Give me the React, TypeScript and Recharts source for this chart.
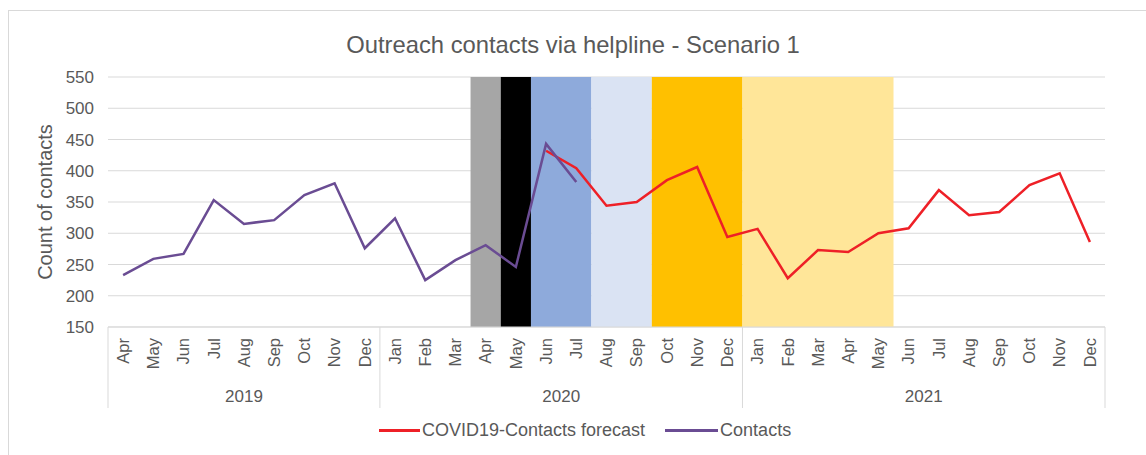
import React from 'react';
import { ComposedChart, Line, XAxis, YAxis, CartesianGrid, ReferenceArea, Legend } from 'recharts';

document.body.style.margin = '0';

const years = ['2019', '2020', '2021'];
const yearMonths = [
  ['Apr', 'May', 'Jun', 'Jul', 'Aug', 'Sep', 'Oct', 'Nov', 'Dec'],
  ['Jan', 'Feb', 'Mar', 'Apr', 'May', 'Jun', 'Jul', 'Aug', 'Sep', 'Oct', 'Nov', 'Dec'],
  ['Jan', 'Feb', 'Mar', 'Apr', 'May', 'Jun', 'Jul', 'Aug', 'Sep', 'Oct', 'Nov', 'Dec'],
];

// Apr 2019 - Jul 2020
const contacts = [233, 259, 267, 353, 315, 321, 361, 380, 276, 324, 225, 257, 281, 246, 443, 382];
// Jun 2020 - Dec 2021
const forecastFrom = 'Jun 2020';
const forecast = [432, 404, 344, 350, 385, 406, 294, 307, 228, 273, 270, 300, 308, 369, 329, 334, 377, 396, 286];

const yTicks = [150, 200, 250, 300, 350, 400, 450, 500, 550];

// shaded phases (category ranges)
const phaseFrom = ['Apr 2020', 'May 2020', 'Jun 2020', 'Aug 2020', 'Oct 2020', 'Jan 2021'];
const phaseTo = ['Apr 2020', 'May 2020', 'Jul 2020', 'Sep 2020', 'Dec 2020', 'May 2021'];
const phaseColors = ['#a6a6a6', '#000000', '#8eaadb', '#dae3f3', '#ffc000', '#ffe699'];

const categories = yearMonths.flatMap((ms, g) => ms.map((m) => `${m} ${years[g]}`));
const groupStart: number[] = [];
yearMonths.reduce((acc, ms) => {
  groupStart.push(acc);
  return acc + ms.length;
}, 0);

const fStart = categories.indexOf(forecastFrom);
const data = categories.map((cat, i) => ({
  cat,
  contacts: i < contacts.length ? contacts[i] : null,
  forecast: i >= fStart ? forecast[i - fStart] : null,
}));

const TEXT = '#595959';
const GRID = '#d9d9d9';
const RED = '#ee2027';
const PURPLE = '#6a4c93';

function CategoryTick(props: any) {
  const { x, y, payload } = props;
  const i: number = payload.index ?? props.index;
  const half: number = payload.offset || 15.1;
  const g = groupStart.findIndex((s, k) => i >= s && i < s + yearMonths[k].length);
  const start = groupStart[g];
  const len = yearMonths[g].length;
  const mid = start + (len - 1) / 2;
  const month = yearMonths[g][i - start];
  const ty = y + 11;
  return (
    <g>
      <text
        x={x}
        y={ty}
        dy="0.35em"
        transform={`rotate(-90, ${x}, ${ty})`}
        textAnchor="end"
        fontSize={16.5}
        fill={TEXT}
      >
        {month}
      </text>
      {i === start && <line x1={x - half} x2={x - half} y1={y} y2={y + 81} stroke={GRID} />}
      {i === categories.length - 1 && <line x1={x + half} x2={x + half} y1={y} y2={y + 81} stroke={GRID} />}
      {i === Math.floor(mid) && (
        <text x={x + (mid - Math.floor(mid)) * 2 * half} y={y + 69} dy="0.35em" textAnchor="middle" fontSize={17} fill={TEXT}>
          {years[g]}
        </text>
      )}
    </g>
  );
}

function LegendContent() {
  const item = (color: string, label: string, w: number) => (
    <div style={{ display: 'flex', alignItems: 'center' }}>
      <div style={{ width: w, height: 3, background: color, marginRight: 2 }} />
      <span style={{ fontSize: 18, color: TEXT }}>{label}</span>
    </div>
  );
  return (
    <div style={{ display: 'flex', alignItems: 'center', gap: 20, fontFamily: '"Liberation Sans", Arial, sans-serif' }}>
      {item(RED, 'COVID19-Contacts forecast', 41)}
      {item(PURPLE, 'Contacts', 53)}
    </div>
  );
}

export default function App() {
  return (
    <div
      style={{
        position: 'relative',
        width: 1146,
        height: 455,
        overflow: 'hidden',
        background: '#fff',
        fontFamily: '"Liberation Sans", Arial, sans-serif',
      }}
    >
      <div style={{ position: 'absolute', left: 8, top: 10, width: 1200, height: 500, border: `1px solid ${GRID}` }} />
      <div style={{ position: 'absolute', top: 31, left: 0, width: 1146, textAlign: 'center', fontSize: 23.8, color: TEXT }}>
        Outreach contacts via helpline - Scenario 1
      </div>
      <div style={{ position: 'absolute', left: 0, top: 0 }}>
        <ComposedChart width={1146} height={455} data={data} margin={{ top: 77, right: 41, bottom: 45, left: 48 }}>
          <CartesianGrid horizontal vertical={false} stroke={GRID} />
          {phaseFrom.map((f, k) => (
            <ReferenceArea key={f} x1={f} x2={phaseTo[k]} fill={phaseColors[k]} fillOpacity={1} stroke="none" />
          ))}
          <XAxis
            dataKey="cat"
            scale="band"
            interval={0}
            height={83}
            tickSize={0}
            tickMargin={0}
            axisLine={{ stroke: GRID }}
            tickLine={false}
            tick={<CategoryTick />}
          />
          <YAxis
            width={60}
            domain={[150, 550]}
            ticks={yTicks}
            axisLine={false}
            tickLine={false}
            tickSize={0}
            tickMargin={14}
            tick={{ fill: TEXT, fontSize: 17 }}
            label={{
              value: 'Count of contacts',
              angle: -90,
              position: 'insideLeft',
              offset: -3,
              style: { textAnchor: 'middle', fill: TEXT, fontSize: 20 },
            }}
          />
          <Line
            type="linear"
            dataKey="forecast"
            name="COVID19-Contacts forecast"
            stroke={RED}
            strokeWidth={2.5}
            dot={false}
            isAnimationActive={false}
          />
          <Line
            type="linear"
            dataKey="contacts"
            name="Contacts"
            stroke={PURPLE}
            strokeWidth={2.5}
            dot={false}
            isAnimationActive={false}
          />
          <Legend
            layout="horizontal"
            verticalAlign="middle"
            align="center"
            wrapperStyle={{ top: 420, left: 379, width: 'auto' }}
            content={<LegendContent />}
          />
        </ComposedChart>
      </div>
    </div>
  );
}
